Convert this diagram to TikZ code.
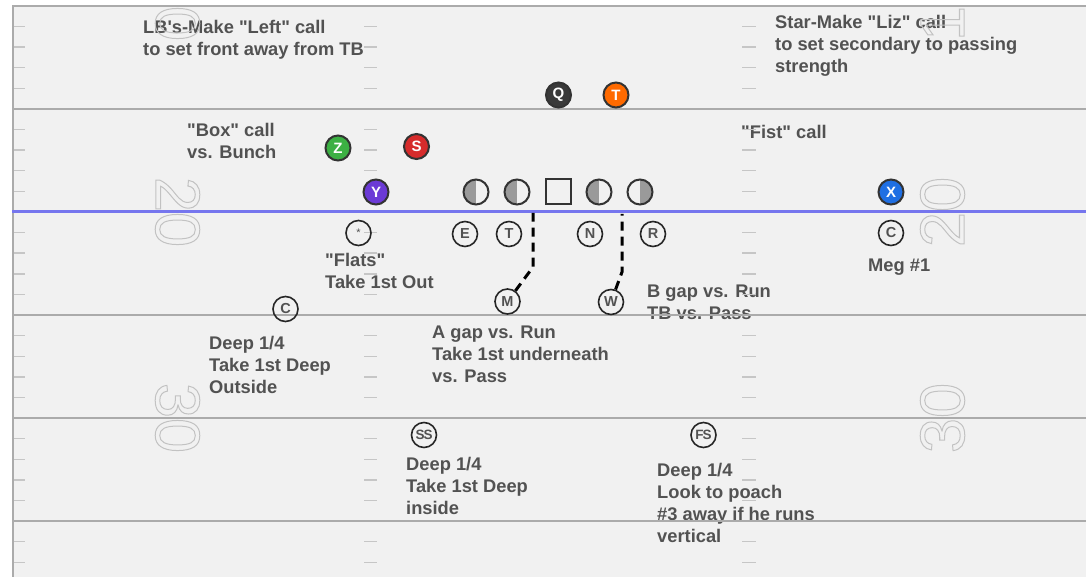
\documentclass[tikz,border=0pt]{standalone}
\usepackage{fontspec}
\setmainfont{Liberation Sans}

\definecolor{fieldbg}{HTML}{F1F1F1}
\definecolor{yardline}{HTML}{ABABAB}
\definecolor{tickgrey}{HTML}{C6C6C6}
\definecolor{numgrey}{HTML}{C2C2C2}
\definecolor{losblue}{RGB}{118,118,238}
\definecolor{notegrey}{HTML}{525252}
\definecolor{ringdark}{HTML}{333333}
\definecolor{olgrey}{HTML}{9A9A9A}
\definecolor{qbfill}{HTML}{3A3A3A}
\definecolor{tefill}{HTML}{FF6A00}
\definecolor{zfill}{HTML}{3CB043}
\definecolor{sfill}{HTML}{D62B2B}
\definecolor{yfill}{HTML}{6B3AD6}
\definecolor{xfill}{HTML}{1F6FE3}

% outlined (stroked, unfilled) glyphs for the yard numbers
\newcommand\hollowdigits[1]{\special{pdf:literal direct 1 Tr 1 w}#1\special{pdf:literal direct 0 Tr}}
% straight double quote
\newcommand\dq{\textquotedbl}

\tikzset{
  % notes are placed by the baseline of their last line
  note/.style={text=notegrey, font=\bfseries\fontsize{18.3}{22}\selectfont,
    align=left, anchor=base west, inner sep=0pt},
  yardnum/.style={text=numgrey, font=\fontsize{63}{63}\selectfont, inner sep=0pt},
  yard/.style={draw=yardline, line width=2pt},
  tick/.style={draw=tickgrey, line width=1.4pt},
  offense/.style={circle, draw=ringdark, line width=2pt, minimum size=25pt,
    inner sep=0pt, text=white, font=\bfseries\fontsize{15}{15}\selectfont},
  olman/.style={circle, draw=ringdark, line width=2pt, minimum size=25pt,
    inner sep=0pt, fill=fieldbg},
  leftshade/.style={olman, path picture={\fill[olgrey]
    (path picture bounding box.south west) rectangle (path picture bounding box.north);}},
  rightshade/.style={olman, path picture={\fill[olgrey]
    (path picture bounding box.south) rectangle (path picture bounding box.north east);}},
  centerbox/.style={rectangle, draw=ringdark, line width=2pt, minimum size=25pt,
    inner sep=0pt, fill=fieldbg},
  defense/.style={circle, draw=black!85, line width=1.6pt, minimum size=25pt,
    inner sep=0pt, text=black!68, font=\bfseries\fontsize{14.5}{14.5}\selectfont},
  safety/.style={defense, font=\bfseries\fontsize{13.5}{13.5}\selectfont},
  route/.style={draw=black, line width=3pt, dash pattern=on 9pt off 6pt}
}

\begin{document}
\begin{tikzpicture}[x=1pt, y=-1pt]
\useasboundingbox (0,0) rectangle (1086,577);
\fill[white] (0,0) rectangle (1086,577);
\fill[fieldbg] (12,6) rectangle (1086,577);

% coaching notes
\node[note] (lbnote) at (143,56) {LB\textquotesingle s-Make \dq Left\dq{} call\\to set front away from TB};
\node[note] (starnote) at (775,73) {Star-Make \dq Liz\dq{} call\\to set secondary to passing\\strength};
\node[note] (boxnote) at (187,159) {\dq Box\dq{} call\\vs. Bunch};
\node[note] (fistnote) at (741,139) {\dq Fist\dq{} call};
\node[note] (flatsnote) at (325,288) {\dq Flats\dq\\Take 1st Out};
\node[note] (megnote) at (868,272) {Meg \#1};
\node[note] (cnote) at (209,393) {Deep 1/4\\Take 1st Deep\\Outside};
\node[note] (mnote) at (432,382) {A gap vs. Run\\Take 1st underneath\\vs. Pass};
\node[note] (wnote) at (647,319) {B gap vs. Run\\TB vs. Pass};
\node[note] (ssnote) at (406,514) {Deep 1/4\\Take 1st Deep\\inside};
\node[note] (fsnote) at (657,542) {Deep 1/4\\Look to poach\\\#3 away if he runs\\vertical};

% field markings
\begin{scope}
  \clip (12,6) rectangle (1086,577);
  \node[yardnum, rotate=-90] (tenl) at (177.5,6) {\hollowdigits{10}};
  \node[yardnum, rotate=90] (tenr) at (942.5,6) {\hollowdigits{10}};
  \node[yardnum, rotate=-90] (twentyl) at (177.5,212) {\hollowdigits{20}};
  \node[yardnum, rotate=90] (twentyr) at (942.5,212) {\hollowdigits{20}};
  \node[yardnum, rotate=-90] (thirtyl) at (177.5,418) {\hollowdigits{30}};
  \node[yardnum, rotate=90] (thirtyr) at (942.5,418) {\hollowdigits{30}};

  \foreach \t in {26.6,47.2,67.8,88.4,129.6,150.2,170.8,191.4,232.6,253.2,
                  273.8,294.4,335.6,356.2,376.8,397.4,438.6,459.2,479.8,500.4,
                  541.6,562.2} {
    \draw[tick] (12,\t) -- (25,\t);
    \draw[tick] (364,\t) -- (377,\t);
    \draw[tick] (742,\t) -- (756,\t);
  }
  \foreach \t in {109,315,418,520.5} {
    \draw[yard] (12,\t) -- (1086,\t);
  }
  \draw[yard] (12,6.5) -- (1086,6.5);
  \draw[yard] (12.5,6) -- (12.5,577);
  \draw[losblue, line width=3pt] (12,212) -- (1086,212);
\end{scope}

% defense
\node[defense] (dstar) at (358.5,233) {\raisebox{1pt}{\mdseries\fontsize{11}{11}\selectfont *}};
\node[defense] (de) at (465,234) {E};
\node[defense] (dt) at (509,234) {T};
\node[defense] (dn) at (590,234) {N};
\node[defense] (dr) at (653,234) {R};
\node[defense] (dm) at (507.5,301.5) {M};
\node[defense] (dw) at (611,302) {W};
\node[defense] (dcl) at (285.5,309) {C};
\node[defense] (dcr) at (891,233) {C};
\node[safety] (dss) at (424,435) {S\kern-1pt S};
\node[safety] (dfs) at (703.5,435) {F\kern-1pt S};

% offense
\node[offense, fill=qbfill] (q) at (558.5,95) {Q};
\node[offense, fill=tefill] (te) at (616,95) {T};
\node[offense, fill=zfill] (z) at (338,148) {Z};
\node[offense, fill=sfill] (s) at (416.5,146.5) {S};
\node[offense, fill=yfill] (y) at (376,192) {Y};
\node[offense, fill=xfill] (x) at (891,192) {X};

\node[leftshade] (lt) at (476,192) {};
\node[leftshade] (lg) at (517,192) {};
\node[centerbox] (ctr) at (558.5,192) {};
\node[leftshade] (rg) at (599,192) {};
\node[rightshade] (rt) at (640,192) {};

% linebacker gap fits
\coordinate (mbend) at (533,267);
\coordinate (mgap) at (533,213);
\coordinate (wbend) at (622,272);
\coordinate (wgap) at (622,214);
\draw[route] (dm) -- (mbend) -- (mgap);
\draw[route] (dw) -- (wbend) -- (wgap);
\end{tikzpicture}
\end{document}
